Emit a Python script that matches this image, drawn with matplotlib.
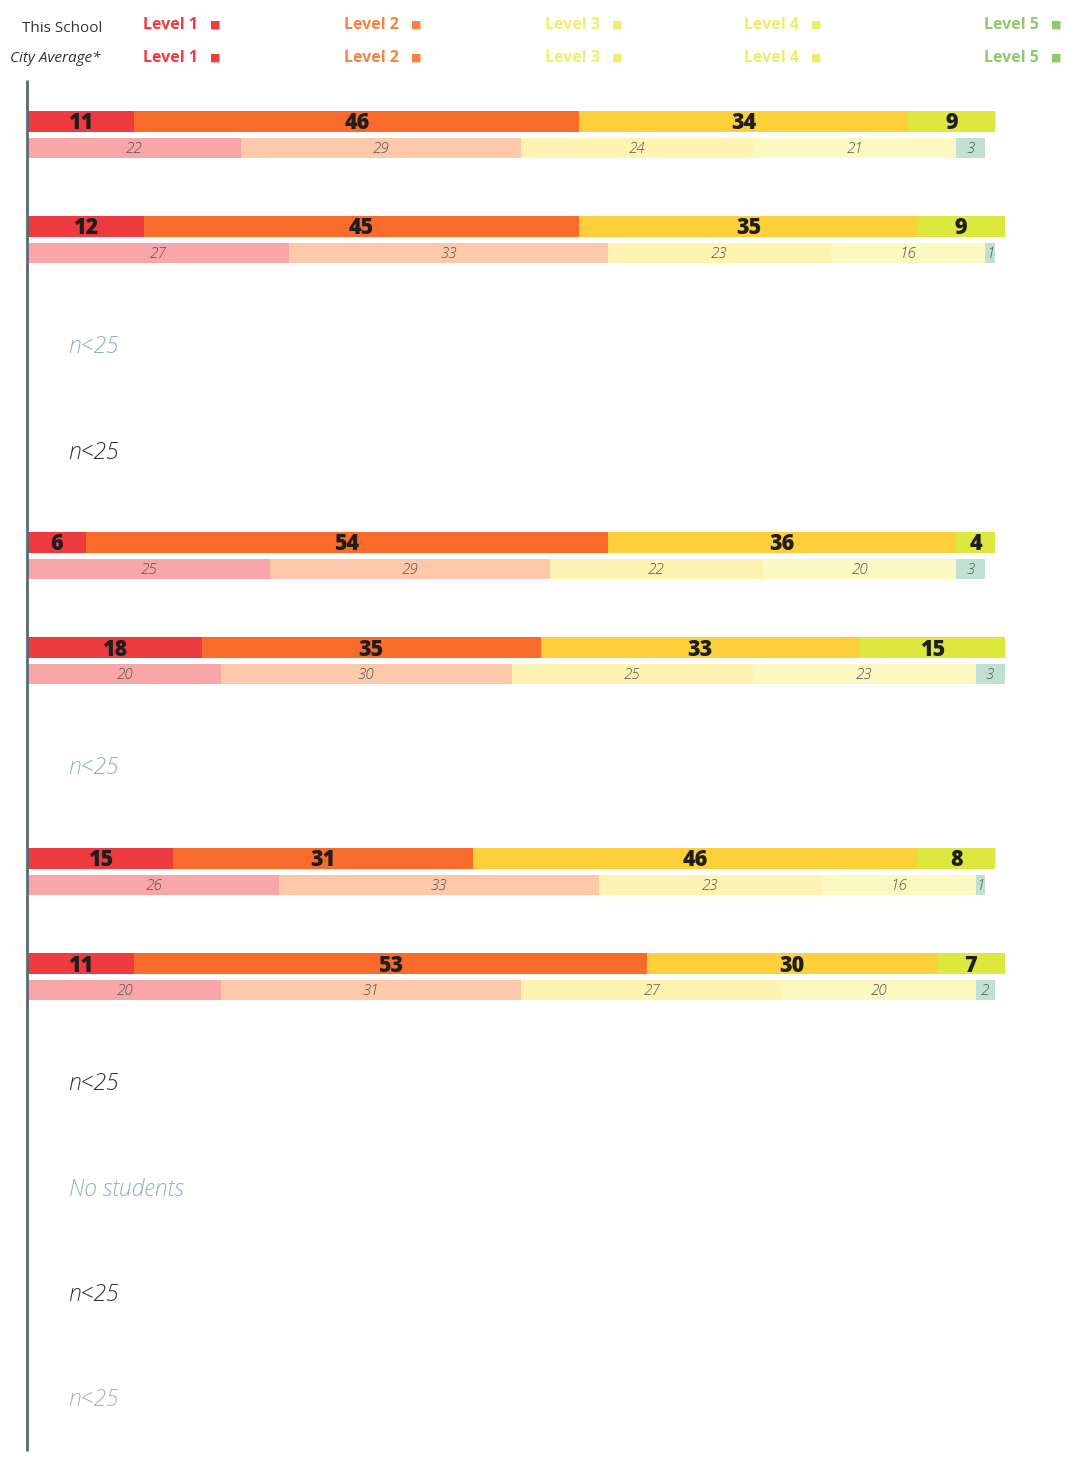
import matplotlib.pyplot as plt
import numpy as np

plt.rcParams['font.family'] = ['Open Sans', 'DejaVu Sans']

# level shares per row (L1..L5), None where the row shows a note instead
school = [
    [11, 46, 34, 9, 0],
    [12, 45, 35, 9, 0],
    None,
    None,
    [6, 54, 36, 4, 0],
    [18, 35, 33, 15, 0],
    None,
    [15, 31, 46, 8, 0],
    [11, 53, 30, 7, 0],
    None,
    None,
    None,
    None,
]
city = [
    [22, 29, 24, 21, 3],
    [27, 33, 23, 16, 1],
    None,
    None,
    [25, 29, 22, 20, 3],
    [20, 30, 25, 23, 3],
    None,
    [26, 33, 23, 16, 1],
    [20, 31, 27, 20, 2],
    None,
    None,
    None,
    None,
]
notes = [None, None, "n<25", "n<25", None, None, "n<25", None, None,
         "n<25", "No students", "n<25", "n<25"]
note_colors = [None, None, "#8fb0bf", "#333333", None, None, "#8fb0bf", None, None,
               "#333333", "#8fb0bf", "#333333", "#b0b0b0"]
levels = ["Level 1", "Level 2", "Level 3", "Level 4", "Level 5"]

school_colors = ["#ee3b40", "#f86b2b", "#fdcf3b", "#dde83e", "#8cc63f"]
city_colors = ["#f9a6a9", "#fdc9aa", "#fff3b4", "#fbf8c2", "#c2e0d2"]
legend_colors = ["#f23c40", "#f8823f", "#f2ee6a", "#eced6a", "#92c86a"]

fig = plt.figure(figsize=(10.74, 14.58), dpi=100)
ax = fig.add_axes([0, 0, 1, 1])
px = 9.67  # pixels per percent
ax.set_xlim(-28 / px, (1074 - 28) / px)
ax.set_ylim((1458 - 134.5) / 105.3, -134.5 / 105.3)
ax.axis("off")

for i in range(len(notes)):
    if school[i] is not None:
        left = 0
        for k, v in enumerate(school[i]):
            if v == 0:
                continue
            ax.barh(i - 0.125, v, left=left, height=0.2, color=school_colors[k], linewidth=0)
            ax.text(left + v / 2, i - 0.108, str(v), ha="center", va="center",
                    fontsize=15.5, fontweight="heavy", color="#1e1e1e")
            left += v
        left = 0
        for k, v in enumerate(city[i]):
            if v == 0:
                continue
            ax.barh(i + 0.125, v, left=left, height=0.19, color=city_colors[k], linewidth=0)
            ax.text(left + v / 2, i + 0.135, str(v), ha="center", va="center",
                    fontsize=11, style="italic", fontweight="light", color="#555555")
            left += v
    else:
        ax.text(4.2, i + 0.02, notes[i], ha="left", va="center", fontsize=16.5,
                style="italic", fontweight="light", color=note_colors[i])

# vertical axis line
ax.plot([-0.1, -0.1], [-0.52, 12.5], color="#5a6878", linewidth=2, solid_capstyle="butt")

# header / legend
fig.text(62 / 1074, 1 - 29 / 1458, "This School", ha="center", va="center",
         fontsize=11, color="#333333")
fig.text(55 / 1074, 1 - 58 / 1458, "City Average*", ha="center", va="center",
         fontsize=11, style="italic", color="#333333")
leg_x = [143, 344, 545, 744, 984]
for k, lab in enumerate(levels):
    for yy in (25, 58):
        fig.text(leg_x[k] / 1074, 1 - yy / 1458, lab, ha="left", va="center",
                 fontsize=11.5, fontweight="bold", color=legend_colors[k])
        fig.text((leg_x[k] + 72) / 1074, 1 - yy / 1458, "■", ha="center", va="center",
                 fontsize=8, color=legend_colors[k], family=["DejaVu Sans"])

fig.savefig("out.png", dpi=100)
